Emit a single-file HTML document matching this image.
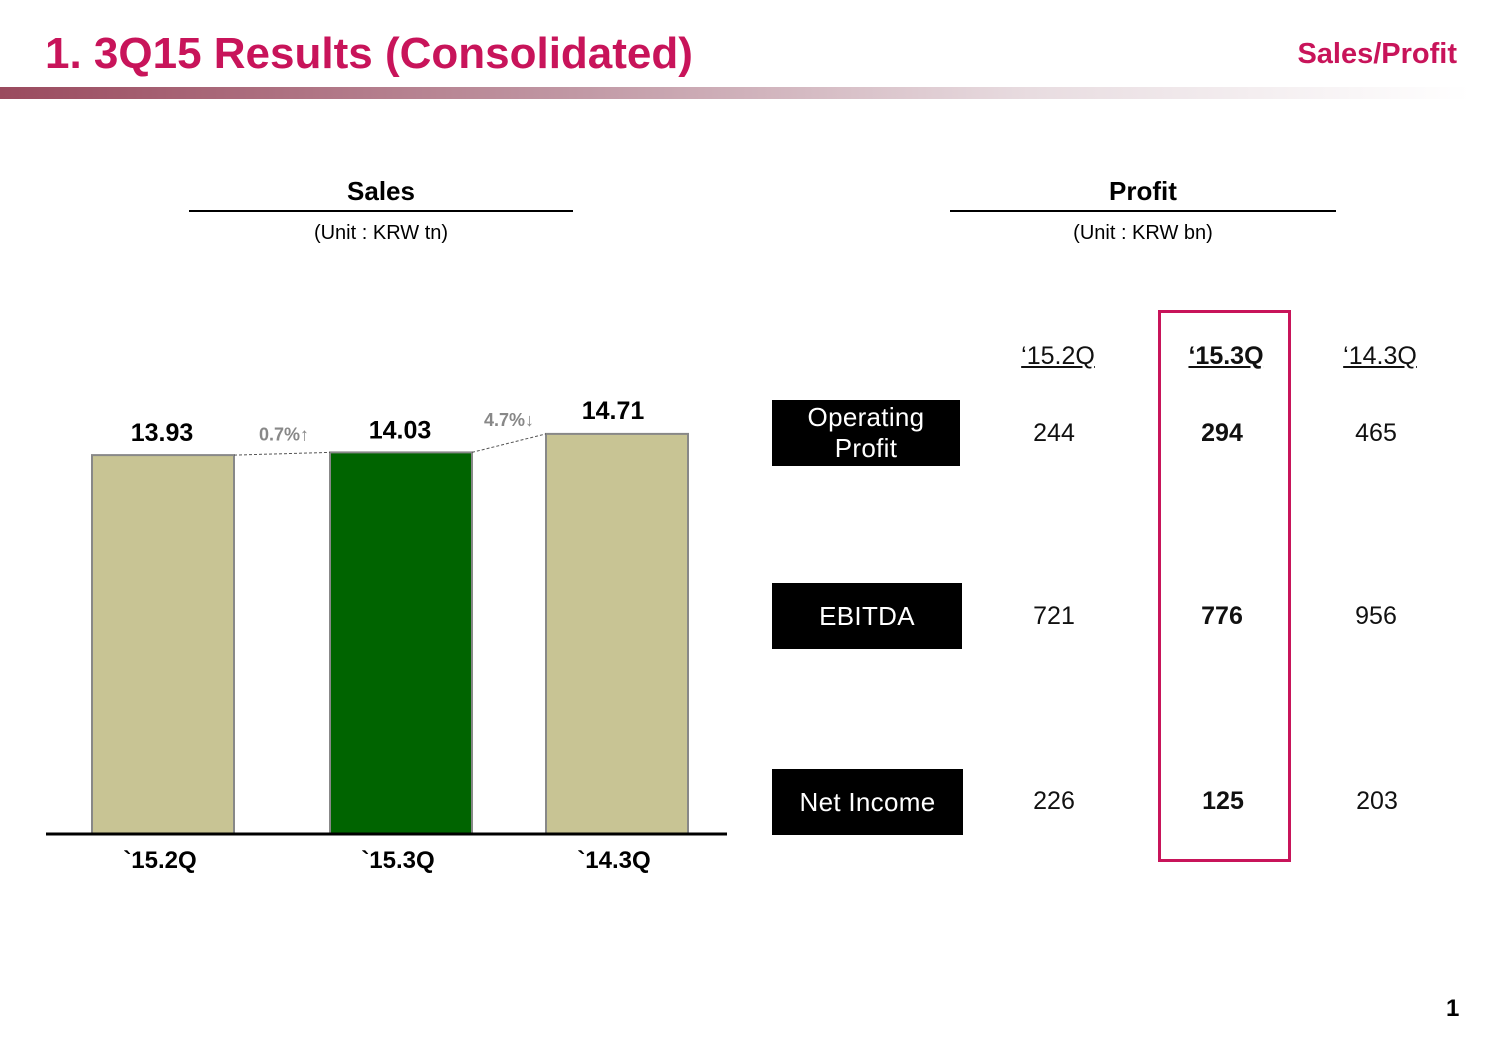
<!DOCTYPE html>
<html><head><meta charset="utf-8"><style>
body{margin:0;width:1500px;height:1038px;background:#fff;font-family:"Liberation Sans",sans-serif;position:relative;overflow:hidden}
.a{position:absolute}
.lbl{position:absolute;background:#000;color:#fff;font-size:26px;text-align:center;display:flex;align-items:center;justify-content:center;line-height:31px;letter-spacing:0.3px}
.v{position:absolute;font-size:25px;width:100px;text-align:center;color:#111}
.h{position:absolute;font-size:25px;text-decoration:underline;width:120px;text-align:center;color:#111}
</style></head><body>
<div class="a" style="left:45px;top:29px;font-size:44px;font-weight:bold;color:#c8145a">1. 3Q15 Results (Consolidated)</div>
<div class="a" style="right:43px;top:38px;font-size:29px;font-weight:bold;color:#c8145a">Sales/Profit</div>
<div class="a" style="left:0;top:87px;width:1470px;height:12px;background:linear-gradient(90deg,#9a4a5e,#c29aa6 40%,#e8dce0 70%,#fff)"></div>

<div class="a" style="left:189px;top:176px;width:384px;text-align:center;font-size:26px;font-weight:bold">Sales</div>
<div class="a" style="left:189px;top:210px;width:384px;height:2px;background:#000"></div>
<div class="a" style="left:189px;top:222px;width:384px;text-align:center;font-size:20px">(Unit : KRW tn)</div>
<div class="a" style="left:950px;top:176px;width:386px;text-align:center;font-size:26px;font-weight:bold">Profit</div>
<div class="a" style="left:950px;top:210px;width:386px;height:2px;background:#000"></div>
<div class="a" style="left:950px;top:222px;width:386px;text-align:center;font-size:20px">(Unit : KRW bn)</div>

<svg class="a" style="left:0;top:0" width="760" height="900" id="chart"></svg>
<script>
const categories=["`15.2Q","`15.3Q","`14.3Q"];
const sales=[13.93,14.03,14.71];
const changes=["0.7%\u2191","4.7%\u2193"];
const svg=document.getElementById('chart');
const NS='http://www.w3.org/2000/svg';
const base=834, k=27.2, xs=[92,330,546], bw=142;
function y(v){return base-v*k;}
function mk(t,a){const e=document.createElementNS(NS,t);for(const n in a)e.setAttribute(n,a[n]);svg.appendChild(e);return e;}
sales.forEach((v,i)=>{
 const r=mk('rect',{x:xs[i],y:y(v),width:bw,height:v*k,fill:i==1?'#006400':'#c8c494',stroke:'#888','stroke-width':2});
 
 
 const t=mk('text',{x:xs[i]+bw/2+(i==2?-4:-1),y:y(v)-(i==2?15:14),'text-anchor':'middle','font-size':25,'font-weight':'bold','font-family':'Liberation Sans'});
 t.textContent=v.toFixed(2);
 
 
 const c=mk('text',{x:xs[i]+bw/2-3,y:868,'text-anchor':'middle','font-size':24,'font-weight':'bold','font-family':'Liberation Sans'});
 c.textContent=categories[i];
 
 
}
);
for(let i=0;i<2;i++){
 const l=mk('line',{x1:xs[i]+bw,y1:y(sales[i]),x2:xs[i+1],y2:y(sales[i+1]),stroke:'#555','stroke-dasharray':'3,2'});
 
 
 const t=mk('text',{x:(xs[i]+bw+xs[i+1])/2+(i==0?2:0),y:Math.min(y(sales[i]),y(sales[i+1]))-(i==0?12:8),'text-anchor':'middle','font-size':18,'font-weight':'bold',fill:'#888','font-family':'Liberation Sans'});
 t.textContent=changes[i];
 
 
}
const ax=mk('line',{x1:46,y1:base,x2:727,y2:base,stroke:'#000','stroke-width':3});


</script>

<div class="a" style="left:1158px;top:310px;width:127px;height:546px;border:3px solid #c8145a"></div>
<div class="h" style="left:998px;top:342px">‘15.2Q</div>
<div class="h" style="left:1166px;top:342px;font-weight:bold">‘15.3Q</div>
<div class="h" style="left:1320px;top:342px">‘14.3Q</div>

<div class="lbl" style="left:772px;top:400px;width:188px;height:66px">Operating<br>Profit</div>
<div class="lbl" style="left:772px;top:583px;width:190px;height:66px">EBITDA</div>
<div class="lbl" style="left:772px;top:769px;width:191px;height:66px">Net Income</div>

<div class="v" style="left:1004px;top:419px">244</div>
<div class="v" style="left:1172px;top:419px;font-weight:bold">294</div>
<div class="v" style="left:1326px;top:419px">465</div>
<div class="v" style="left:1004px;top:602px">721</div>
<div class="v" style="left:1172px;top:602px;font-weight:bold">776</div>
<div class="v" style="left:1326px;top:602px">956</div>
<div class="v" style="left:1004px;top:787px">226</div>
<div class="v" style="left:1173px;top:787px;font-weight:bold">125</div>
<div class="v" style="left:1327px;top:787px">203</div>

<div class="a" style="left:1446px;top:995px;font-size:24px;font-weight:bold">1</div>
</body></html>
